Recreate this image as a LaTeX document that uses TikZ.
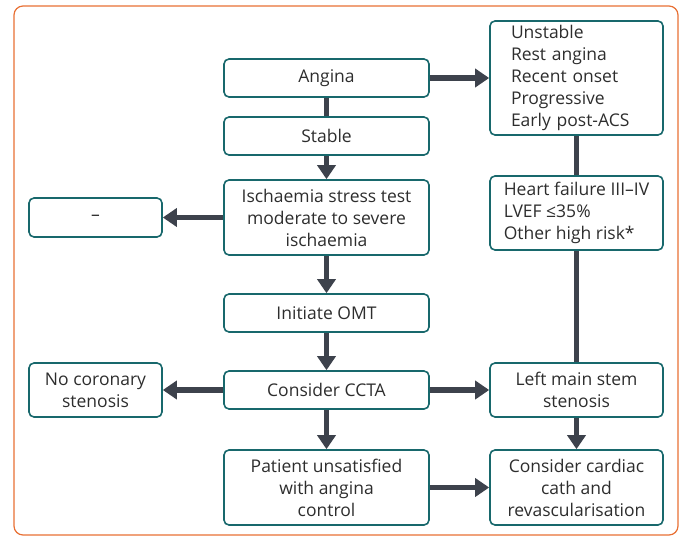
\documentclass[tikz,border=0pt]{standalone}
\usepackage{fontspec}
\setmainfont{Open Sans}
\usetikzlibrary{arrows.meta}
\definecolor{frame}{RGB}{232, 112, 52}
\definecolor{boxline}{RGB}{24, 104, 108}
\definecolor{arrowgray}{RGB}{61, 66, 76}
\definecolor{ink}{RGB}{45, 45, 45}

\begin{document}
\begin{tikzpicture}[x=1pt, y=-1pt,
  box/.style={draw=boxline, line width=1.6pt, rounded corners=5pt, align=center,
    text=ink, inner sep=0pt, font=\fontsize{17.5}{22}\selectfont},
  flow/.style={draw=arrowgray, line width=5.5pt, -{Triangle[length=14pt,width=18pt]}},
  link/.style={draw=arrowgray, line width=5.5pt}]
  \useasboundingbox (0, 0) rectangle (681, 536);
  \draw[frame, line width=1.2pt, rounded corners=9pt] (14, 6) rectangle (678, 535);

  % Main column
  \node[box, minimum width=205pt, minimum height=38pt] (angina) at (326.5, 78) {Angina};
  \node[box, minimum width=205pt, minimum height=38pt] (stable) at (326.5, 136) {Stable};
  \node[box, minimum width=205pt, minimum height=75pt] (stress) at (326.5, 217.5)
    {Ischaemia stress test\\moderate to severe\\ischaemia};
  \node[box, minimum width=205pt, minimum height=38pt] (omt) at (326.5, 313) {Initiate OMT};
  \node[box, minimum width=205pt, minimum height=38pt] (ccta) at (326.5, 390) {Consider CCTA};
  \node[box, minimum width=205pt, minimum height=75pt] (unsat) at (326.5, 487.5)
    {Patient unsatisfied\\with angina\\control};

  % Left column
  \node[box, minimum width=133pt, minimum height=39pt] (dash) at (95.5, 217.5) {--};
  \node[box, minimum width=133pt, minimum height=54pt] (nocor) at (95.5, 390)
    {No coronary\\stenosis};

  % Right column
  \node[box, align=left, text width=131pt, minimum width=173pt, minimum height=114pt] (unstable) at (576.5, 78)
    {Unstable\\Rest angina\\Recent onset\\Progressive\\Early post-ACS};
  \node[box, align=left, minimum width=173pt, minimum height=74pt] (highrisk) at (576.5, 213)
    {Heart failure III--IV\\LVEF \symbol{"2264}35\%\\Other high risk*};
  \node[box, minimum width=173pt, minimum height=54pt] (lms) at (576.5, 390)
    {Left main stem\\stenosis};
  \node[box, minimum width=173pt, minimum height=75pt] (cath) at (576.5, 487.5)
    {Consider cardiac\\cath and\\revascularisation};

  % Connectors
  \draw[link] (angina) -- (stable);
  \draw[flow] (stable) -- (stress);
  \draw[flow] (stress) -- (dash);
  \draw[flow] (stress) -- (omt);
  \draw[flow] (omt) -- (ccta);
  \draw[flow] (ccta) -- (nocor);
  \draw[flow] (ccta) -- (lms);
  \draw[flow] (ccta) -- (unsat);
  \draw[flow] (unsat) -- (cath);
  \draw[flow] (angina) -- (unstable);
  \draw[link] (unstable) -- (highrisk);
  \draw[link] (highrisk) -- (lms);
  \draw[flow] (lms) -- (cath);
\end{tikzpicture}
\end{document}
